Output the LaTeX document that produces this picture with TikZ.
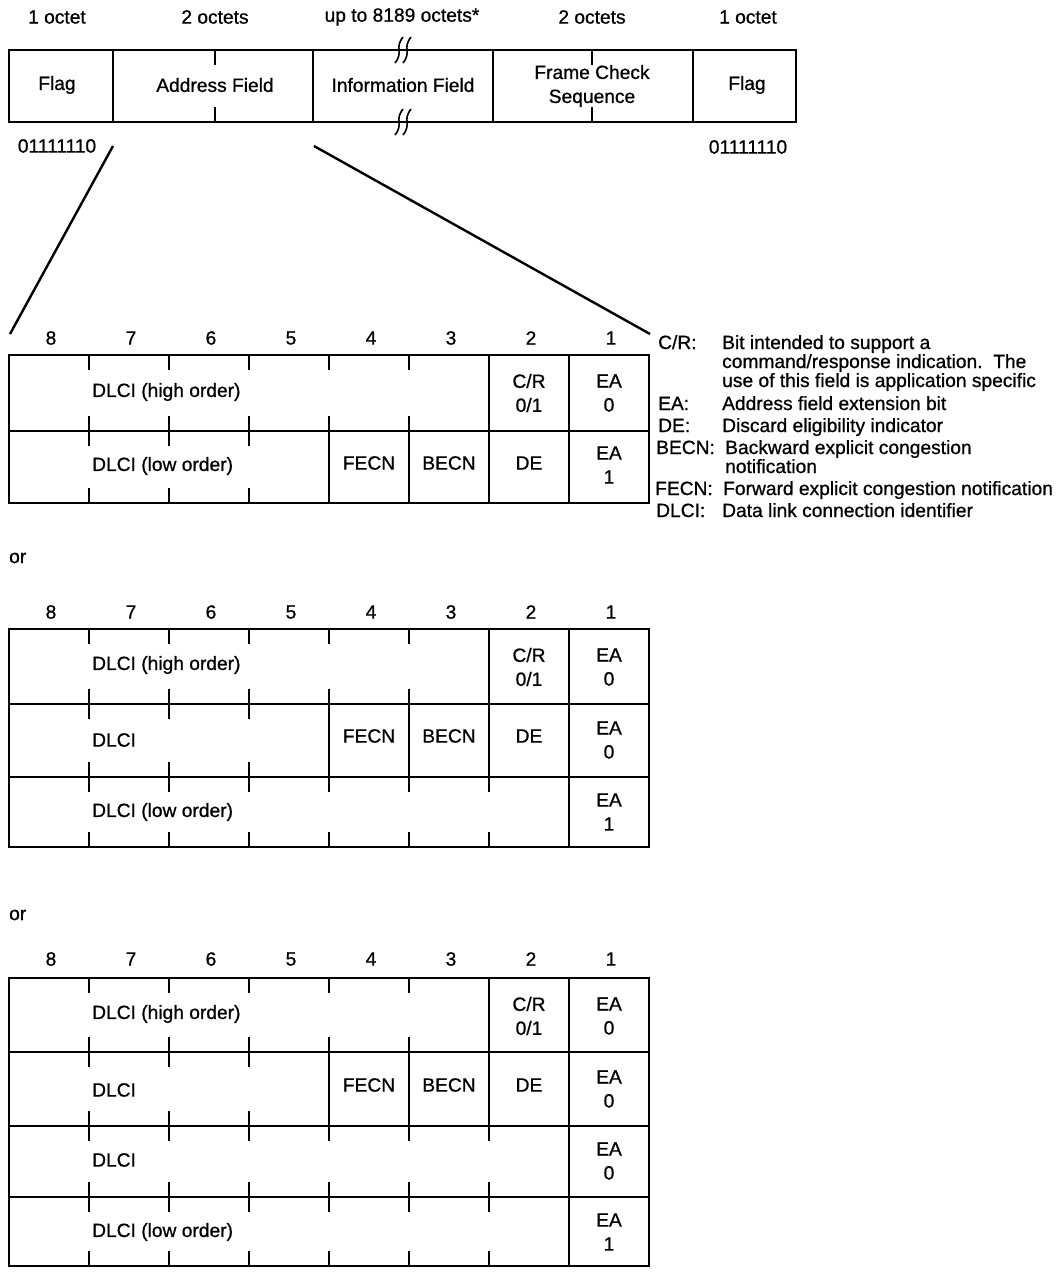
\documentclass[tikz,border=0pt]{standalone}
\usepackage{fontspec}
\setmainfont{Liberation Sans}[FakeBold=0.8]
\tikzset{
  txt/.style={font=\fontsize{19.2}{24}\selectfont, inner sep=0pt, align=center},
  border/.style={line width=2.4pt},
  tickline/.style={line width=1.8pt},
  fan/.style={line width=2.4pt},
  squigline/.style={line width=1.6pt},
}
\newcommand\tabrow[4]{%
  \foreach \xx in {#3} {\draw[tickline] (\xx,#1) -- ++(0,15); \draw[tickline] (\xx,#2) -- ++(0,-15);}
  \foreach \xx in {#4} {\draw[border] (\xx,#1) -- (\xx,#2);}
}
\newcommand\bitnums[2]{%
  \foreach \b [count=\i from 0] in {8,7,6,5,4,3,2,1}
    \node[txt] (#1n\b) at ({51+80*\i},#2) {\b};
}
\newcommand\squig[3]{%
  \draw[squigline] ({#1+4},#2) .. controls ({#1-5},{#2+0.45*(#3-#2)}) and ({#1+5},{#3-0.45*(#3-#2)}) .. ({#1-4},#3);
}
\begin{document}
\begin{tikzpicture}[x=1pt,y=-1pt]
\useasboundingbox (0,0) rectangle (1059,1274);
\fill[white] (0,0) rectangle (1059,1274);

% ---------- frame ----------
\node[txt] (o1) at (57,17) {1 octet};
\node[txt] (o2) at (215,17) {2 octets};
\node[txt] (o3) at (402,17) {up to 8189 octets*};
\node[txt] (o4) at (592,17) {2 octets};
\node[txt] (o5) at (748,17) {1 octet};

\draw[border] (9,50) rectangle (796,122);
\foreach \xx in {113,313,493,693} \draw[border] (\xx,50) -- (\xx,122);
\draw[tickline] (215,50) -- ++(0,15);
\draw[tickline] (215,122) -- ++(0,-15);
\draw[tickline] (592,50) -- ++(0,15);
\draw[tickline] (592,122) -- ++(0,-15);
\squig{399}{37}{63}
\squig{407}{37}{63}
\squig{399}{109}{135}
\squig{407}{109}{135}

\node[txt] (flagL) at (57,85) {Flag};
\node[txt] (addr) at (215,85) {Address Field};
\node[txt] (info) at (403,85) {Information Field};
\node[txt] (fcs) at (592,86) {Frame Check\\Sequence};
\node[txt] (flagR) at (747,85) {Flag};
\node[txt] (patL) at (57,146) {01111110};
\node[txt] (patR) at (748,147) {01111110};

% ---------- fan lines ----------
\coordinate (fanLa) at (113,146);
\coordinate (fanLb) at (10,334);
\coordinate (fanRa) at (314,146);
\coordinate (fanRb) at (650,334);
\draw[fan] (fanLa) -- (fanLb);
\draw[fan] (fanRa) -- (fanRb);

% ---------- table 1 ----------
\bitnums{a}{338}
\draw[border] (9,355) rectangle (649,503);
\draw[border] (9,431) -- (649,431);
\tabrow{355}{431}{89,169,249,329,409}{489,569}
\tabrow{431}{503}{89,169,249}{329,409,489,569}
\node[txt, anchor=west] (a1) at (92,392) {DLCI (high order)};
\node[txt] (acr) at (529,393) {C/R\\0/1};
\node[txt] (aea0) at (609,393) {EA\\0};
\node[txt, anchor=west] (a2) at (92,466) {DLCI (low order)};
\node[txt] (afe) at (369,463) {FECN};
\node[txt] (abe) at (449,463) {BECN};
\node[txt] (ade) at (529,463) {DE};
\node[txt] (aea1) at (609,465) {EA\\1};

% ---------- legend ----------
\node[txt, anchor=base west] (k1) at (658,349) {C/R:};
\node[txt, anchor=base west] (d1a) at (722,349) {Bit intended to support a};
\node[txt, anchor=base west] (d1b) at (722,368) {command/response indication.\ \ The};
\node[txt, anchor=base west] (d1c) at (722,387) {use of this field is application specific};
\node[txt, anchor=base west] (k2) at (658,410) {EA:};
\node[txt, anchor=base west] (d2) at (722,410) {Address field extension bit};
\node[txt, anchor=base west] (k3) at (658,432) {DE:};
\node[txt, anchor=base west] (d3) at (722,432) {Discard eligibility indicator};
\node[txt, anchor=base west] (k4) at (656,454) {BECN:};
\node[txt, anchor=base west] (d4a) at (725,454) {Backward explicit congestion};
\node[txt, anchor=base west] (d4b) at (725,473) {notification};
\node[txt, anchor=base west] (k5) at (655,495) {FECN:};
\node[txt, anchor=base west] (d5) at (723,495) {Forward explicit congestion notification};
\node[txt, anchor=base west] (k6) at (656,517) {DLCI:};
\node[txt, anchor=base west] (d6) at (722,517) {Data link connection identifier};

% ---------- or ----------
\node[txt, anchor=west] (or1) at (9,558) {or};

% ---------- table 2 ----------
\bitnums{b}{612}
\draw[border] (9,629) rectangle (649,847);
\draw[border] (9,704) -- (649,704);
\draw[border] (9,777) -- (649,777);
\tabrow{629}{704}{89,169,249,329,409}{489,569}
\tabrow{704}{777}{89,169,249}{329,409,489,569}
\tabrow{777}{847}{89,169,249,329,409,489}{569}
\node[txt, anchor=west] (b1) at (92,665) {DLCI (high order)};
\node[txt] (bcr) at (529,667) {C/R\\0/1};
\node[txt] (bea0) at (609,667) {EA\\0};
\node[txt, anchor=west] (b2) at (92,740) {DLCI};
\node[txt] (bfe) at (369,736) {FECN};
\node[txt] (bbe) at (449,736) {BECN};
\node[txt] (bde) at (529,736) {DE};
\node[txt] (bea1) at (609,740) {EA\\0};
\node[txt, anchor=west] (b3) at (92,812) {DLCI (low order)};
\node[txt] (bea2) at (609,812) {EA\\1};

% ---------- or ----------
\node[txt, anchor=west] (or2) at (9,915) {or};

% ---------- table 3 ----------
\bitnums{c}{959}
\draw[border] (9,978) rectangle (649,1266);
\draw[border] (9,1052) -- (649,1052);
\draw[border] (9,1126) -- (649,1126);
\draw[border] (9,1197) -- (649,1197);
\tabrow{978}{1052}{89,169,249,329,409}{489,569}
\tabrow{1052}{1126}{89,169,249}{329,409,489,569}
\tabrow{1126}{1197}{89,169,249,329,409,489}{569}
\tabrow{1197}{1266}{89,169,249,329,409,489}{569}
\node[txt, anchor=west] (c1) at (92,1014) {DLCI (high order)};
\node[txt] (ccr) at (529,1016) {C/R\\0/1};
\node[txt] (cea0) at (609,1016) {EA\\0};
\node[txt, anchor=west] (c2) at (92,1090) {DLCI};
\node[txt] (cfe) at (369,1085) {FECN};
\node[txt] (cbe) at (449,1085) {BECN};
\node[txt] (cde) at (529,1085) {DE};
\node[txt] (cea1) at (609,1089) {EA\\0};
\node[txt, anchor=west] (c3) at (92,1160) {DLCI};
\node[txt] (cea2) at (609,1161) {EA\\0};
\node[txt, anchor=west] (c4) at (92,1232) {DLCI (low order)};
\node[txt] (cea3) at (609,1232) {EA\\1};
\end{tikzpicture}
\end{document}
